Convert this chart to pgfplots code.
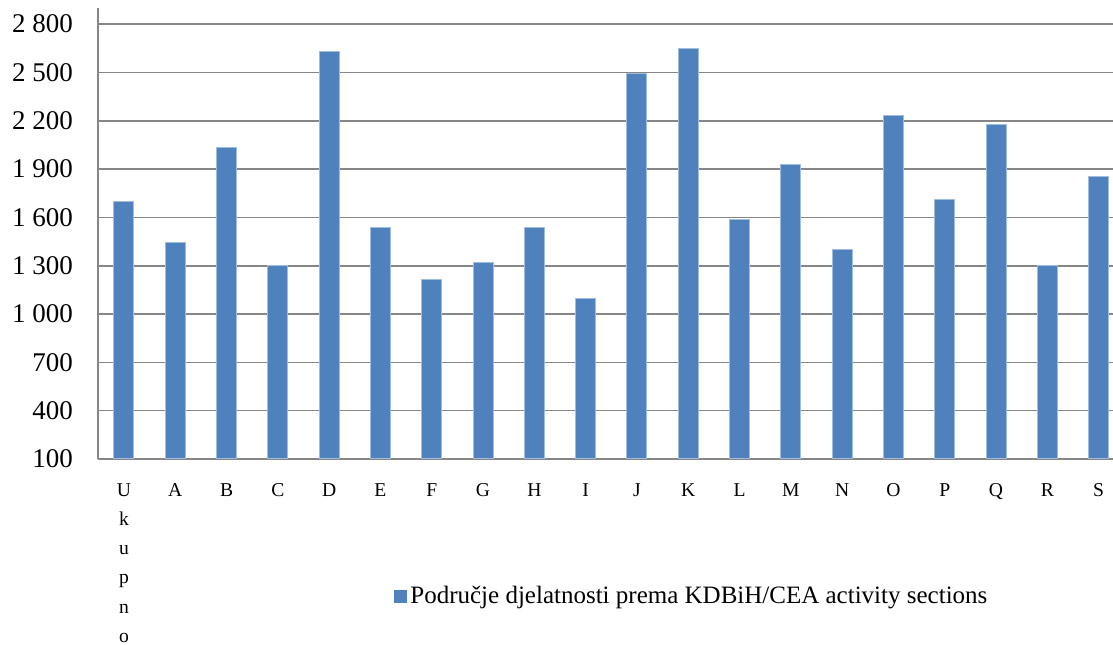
\documentclass[border=0pt]{standalone}
\usepackage{pgfplots}
\pgfplotsset{compat=1.18}
\usepackage{fontspec}
\setmainfont{Liberation Serif}
\definecolor{barblue}{RGB}{79,129,189}
\definecolor{baredge}{RGB}{160,188,222}
\definecolor{gridgray}{RGB}{134,134,134}
\begin{document}
\begin{tikzpicture}
\begin{axis}[
  scale only axis, width=507.35pt, height=225.5pt,
  xmin=-0.5, xmax=19.28, ymin=100, ymax=2900,
  axis lines*=left,
  axis line style={gridgray, line width=0.8pt},
  ymajorgrids, grid style={gridgray, line width=0.8pt},
  major tick length=0pt,
  ytick={100,400,700,1000,1300,1600,1900,2200,2500,2800},
  yticklabels={100,400,700,1 000,1 300,1 600,1 900,2 200,2 500,2 800},
  xtick={0,...,19},
  xticklabels={{U\\k\\u\\p\\n\\o},A,B,C,D,E,F,G,H,I,J,K,L,M,N,O,P,Q,R,S},
  xticklabel style={font=\fontsize{9.8}{14.6}\selectfont, align=center, anchor=north, inner sep=0pt, yshift=-12pt},
  yticklabel style={font=\fontsize{13.5}{16}\selectfont, anchor=east, inner sep=0pt, xshift=-12.5pt},
  ybar, bar width=10pt,
  legend style={at={(0.584,-0.304)}, anchor=center, draw=none, fill=none,
    font=\fontsize{12.5}{15}\selectfont, inner sep=0pt,
    nodes={inner sep=0pt},
    /tikz/every odd column/.append style={column sep=1.5pt}},
  legend image code/.code={\fill[barblue] (0pt,-3pt) rectangle (6pt,3pt);},
]
\addplot[fill=barblue, draw=baredge, line width=0.5pt] coordinates {
  (0,1696) (1,1445) (2,2034) (3,1300) (4,2632) (5,1540) (6,1217) (7,1317)
  (8,1536) (9,1095) (10,2491) (11,2647) (12,1588) (13,1931) (14,1403)
  (15,2231) (16,1714) (17,2175) (18,1300) (19,1855)};
\addlegendentry{Područje djelatnosti prema KDBiH/CEA activity sections}
\end{axis}
\pgfresetboundingbox
\path[use as bounding box] ([xshift=-49.15pt,yshift=-93pt]current axis.south west) rectangle ([yshift=4pt]current axis.north east);
\end{tikzpicture}
\end{document}
